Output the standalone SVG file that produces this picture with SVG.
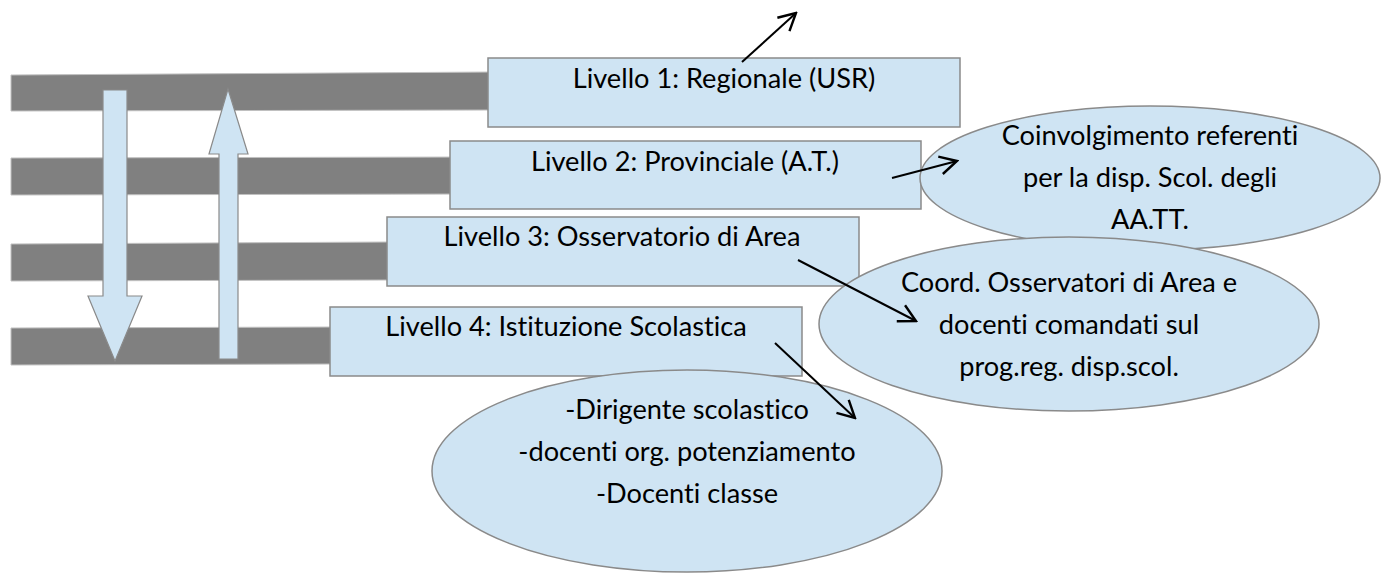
<svg xmlns="http://www.w3.org/2000/svg" width="1381" height="574" viewBox="0 0 1381 574">
<style>
.bar{fill:#808080;stroke:#c0c0c0;stroke-width:1}
.box{fill:#cfe4f3;stroke:#8a8a8a;stroke-width:1.5}
.blk{fill:#cfe4f3;stroke:#8a8a8a;stroke-width:1.2}
.ell{fill:#cfe4f3;stroke:#8a8a8a;stroke-width:1.5}
.t{font-family:Lato,"Liberation Sans",sans-serif;font-size:27.2px;fill:#000;text-anchor:middle;font-variant-ligatures:none}
.con{stroke:#000;stroke-width:2;fill:none}
</style>
<defs>
<marker id="ah" markerUnits="userSpaceOnUse" markerWidth="22" markerHeight="22" viewBox="0 0 22 22" refX="20" refY="11" orient="auto">
<path d="M3,2 L20,11 L3,20" fill="none" stroke="#000" stroke-width="2.4"/>
</marker>
</defs>
<rect width="1381" height="574" fill="#fff"/>
<g id="bars">
<polygon class="bar" points="11,75 495,72 495,110 11,111"/>
<polygon class="bar" points="11,158 470,157 470,194 11,195"/>
<polygon class="bar" points="11,244 392,242 392,280 11,281"/>
<polygon class="bar" points="11,328 335,327 335,364 11,365"/>
</g>
<g id="arrow-down">
<polygon class="blk" points="103,90 127,90 127,296 142,296 115,361 88,296 103,296"/>
</g>
<g id="arrow-up">
<polygon class="blk" points="228,89 248,154 238,154 238,359 219,359 219,154 209,154"/>
</g>
<g id="level1">
<rect class="box" x="488" y="58" width="472" height="69"/>
<text class="t" x="724" y="88">Livello 1: Regionale (USR)</text>
</g>
<g id="level2">
<rect class="box" x="450" y="141" width="471" height="68"/>
<text class="t" x="685" y="171">Livello 2: Provinciale (A.T.)</text>
</g>
<g id="level3">
<rect class="box" x="387" y="217" width="472" height="69"/>
<text class="t" x="622" y="246">Livello 3: Osservatorio di Area</text>
</g>
<g id="level4">
<rect class="box" x="330" y="307" width="472" height="69"/>
<text class="t" x="566" y="336">Livello 4: Istituzione Scolastica</text>
</g>
<g id="ellipse-at">
<ellipse class="ell" cx="1150" cy="178" rx="230" ry="72"/>
<text class="t" x="1150" y="145">Coinvolgimento referenti</text>
<text class="t" x="1150" y="187">per la disp. Scol. degli</text>
<text class="t" x="1150" y="229">AA.TT.</text>
</g>
<g id="ellipse-area">
<ellipse class="ell" cx="1069" cy="324" rx="250" ry="87"/>
<text class="t" x="1069" y="292">Coord. Osservatori di Area e</text>
<text class="t" x="1069" y="334">docenti comandati sul</text>
<text class="t" x="1069" y="376">prog.reg. disp.scol.</text>
</g>
<g id="ellipse-school">
<ellipse class="ell" cx="687" cy="471" rx="255" ry="101"/>
<text class="t" x="687" y="419">-Dirigente scolastico</text>
<text class="t" x="687" y="461">-docenti org. potenziamento</text>
<text class="t" x="687" y="503">-Docenti classe</text>
</g>
<g id="connectors">
<line class="con" x1="742" y1="62" x2="796" y2="13" marker-end="url(#ah)"/>
<line class="con" x1="892" y1="178" x2="957" y2="161" marker-end="url(#ah)"/>
<line class="con" x1="798" y1="260" x2="916" y2="321" marker-end="url(#ah)"/>
<line class="con" x1="775" y1="343" x2="855" y2="418" marker-end="url(#ah)"/>
</g>
</svg>
